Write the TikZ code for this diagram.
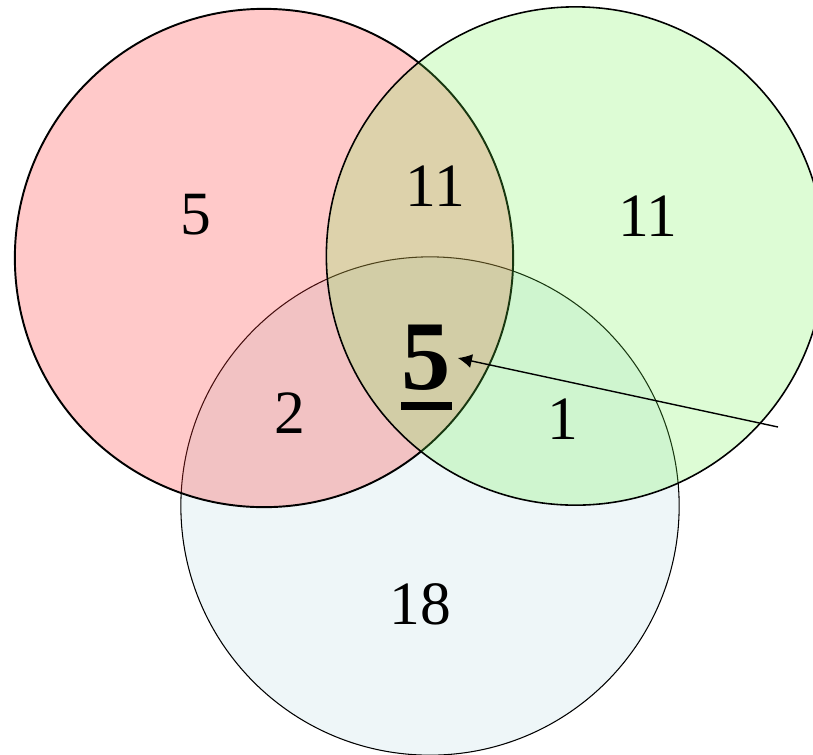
\documentclass[tikz,border=0pt]{standalone}
\usepackage{fontspec}
\setmainfont{Liberation Serif}
\usetikzlibrary{arrows.meta,calc}
\definecolor{SetRed}{RGB}{255,55,55}
\definecolor{SetGreen}{RGB}{107,242,72}
\definecolor{SetBlue}{RGB}{238,246,248}
\tikzset{set/.style={circle,minimum size=4.98cm,inner sep=0pt,draw=black},num/.style={font=\fontsize{17.5}{21}\selectfont,inner sep=0pt},big/.style={font=\fontsize{28}{32}\selectfont\bfseries,inner sep=1.7pt},ptr/.style={-{Latex[length=4pt,width=4pt]},line width=.4pt}}
\begin{document}
\begin{tikzpicture}[x=0.01cm,y=-0.01cm]
\useasboundingbox (0,0) rectangle (813,754);
% the three sets, blue below
\node[set,line width=.3pt,fill=SetBlue] (blue) at (430,506) {};
\node[set,line width=.55pt,fill=SetRed,fill opacity=.27] (red) at (264,258) {};
\node[set,line width=.45pt,fill=SetGreen,fill opacity=.23] (green) at (575.5,256) {};
% counts
\node[num] (ronly) at (196,215) {5};
\node[num] (rg) at (435.5,186) {11};
\node[num] (gonly) at (648,216) {11};
\node[num] (rb) at (290,413) {2};
\node[num] (gb) at (563,419) {1};
\node[num] (bonly) at (420,604) {18};
\node[big] (all) at (426.5,358) {5};
\draw[line width=2.5pt] ($(all.south west)+(6,8.5)$) -- ($(all.south east)+(-6,8.5)$);
\coordinate (tail) at (778,427);
\draw[ptr] (tail) -- (all.east);
\end{tikzpicture}
\end{document}
